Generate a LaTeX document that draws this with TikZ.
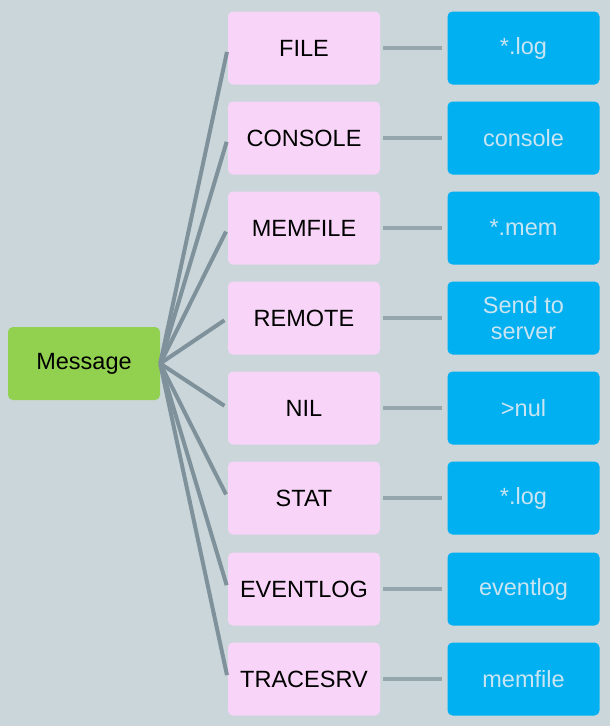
\documentclass[tikz,border=0pt]{standalone}
\usepackage{fontspec}
\setmainfont{Liberation Sans}
\definecolor{bgcol}{HTML}{CBD6DB}
\definecolor{msgcol}{HTML}{92D050}
\definecolor{kindcol}{HTML}{F8D5F8}
\definecolor{sinkcol}{HTML}{00B0F0}
\definecolor{sinktext}{HTML}{C9E4F2}
\definecolor{spokecol}{HTML}{7F929B}
\definecolor{linkcol}{HTML}{95A6AD}
\tikzset{
  box/.style={rounded corners=5pt, minimum width=152pt, minimum height=73pt,
    inner sep=0pt, align=center, font=\fontsize{23.5}{26}\selectfont},
  msgbox/.style={box, fill=msgcol},
  kindbox/.style={box, fill=kindcol},
  sinkbox/.style={box, fill=sinkcol, text=sinktext},
  spoke/.style={draw=spokecol, line width=4pt, shorten >=4pt},
  link/.style={draw=linkcol, line width=4pt, shorten <=3pt, shorten >=5pt}
}
\begin{document}
\begin{tikzpicture}[x=1pt, y=-1pt]
      \fill[bgcol] (0,0) rectangle (610,726);
      \useasboundingbox (0,0) rectangle (610,726);
      \node[msgbox] (msg) at (84,363.5) {Message};
      \draw
        (304,48) node[kindbox] (file){FILE}
        (304,138) node[kindbox] (console){CONSOLE}
        (304,228) node[kindbox] (memfile){MEMFILE}
        (304,318) node[kindbox] (remote){REMOTE}
        (304,408) node[kindbox] (nil){NIL}
        (304,498) node[kindbox] (stat){STAT}
        (304,589) node[kindbox] (eventlog){EVENTLOG}
        (304,679) node[kindbox] (tracesrv){TRACESRV};
      \draw
        (523.5,48) node[sinkbox] (file-out){*.log}
        (523.5,138) node[sinkbox] (console-out){console}
        (523.5,228) node[sinkbox] (memfile-out){*.mem}
        (523.5,318) node[sinkbox] (remote-out){Send to\\server}
        (523.5,408) node[sinkbox] (nil-out){>nul}
        (523.5,498) node[sinkbox] (stat-out){*.log}
        (523.5,589) node[sinkbox] (eventlog-out){eventlog}
        (523.5,679) node[sinkbox] (tracesrv-out){memfile};
      \begin{scope}[spoke]
        \draw (msg.east) to (file.west);
        \draw (msg.east) to (console.west);
        \draw (msg.east) to (memfile.west);
        \draw (msg.east) to (remote.west);
        \draw (msg.east) to (nil.west);
        \draw (msg.east) to (stat.west);
        \draw (msg.east) to (eventlog.west);
        \draw (msg.east) to (tracesrv.west);
      \end{scope}
      \begin{scope}[link]
        \draw (file.east) to (file-out.west);
        \draw (console.east) to (console-out.west);
        \draw (memfile.east) to (memfile-out.west);
        \draw (remote.east) to (remote-out.west);
        \draw (nil.east) to (nil-out.west);
        \draw (stat.east) to (stat-out.west);
        \draw (eventlog.east) to (eventlog-out.west);
        \draw (tracesrv.east) to (tracesrv-out.west);
      \end{scope}
    \end{tikzpicture}
\end{document}
